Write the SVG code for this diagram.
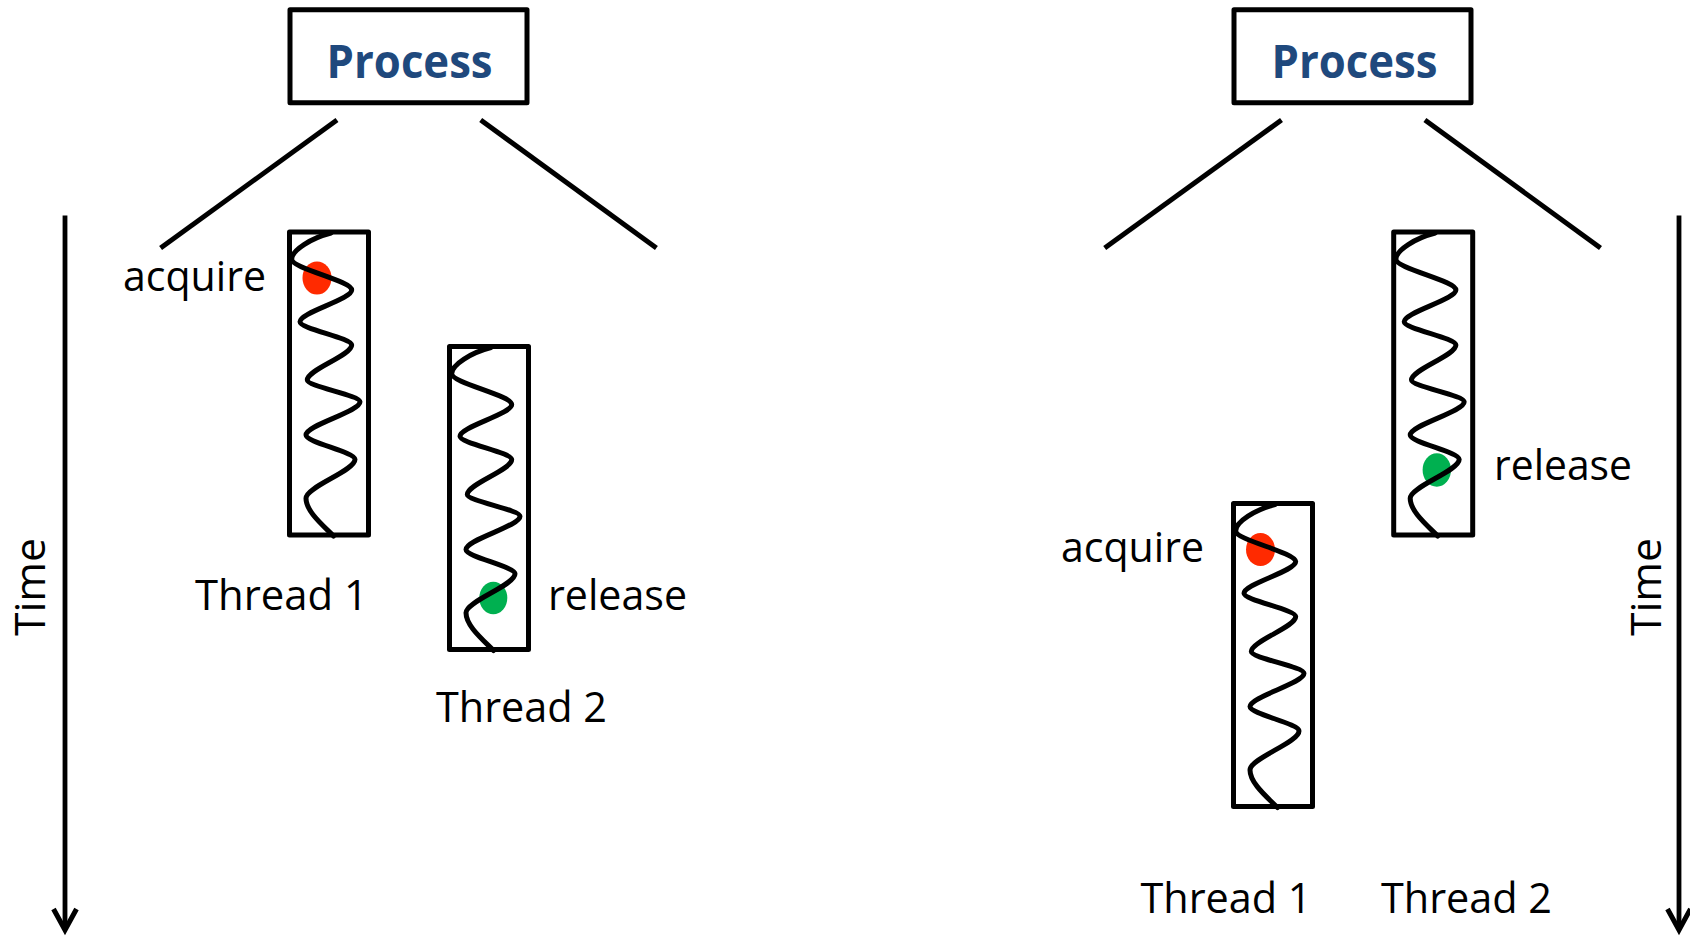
<svg xmlns="http://www.w3.org/2000/svg" xmlns:xlink="http://www.w3.org/1999/xlink" width="1690" height="936" viewBox="0 0 1690 936">
  <style>
    .box { fill: #ffffff; stroke: #000000; stroke-width: 5; stroke-linejoin: round; }
    .wave { fill: none; stroke: #000000; stroke-width: 5; stroke-linecap: round; stroke-linejoin: round; }
    .link { fill: none; stroke: #000000; stroke-width: 5; }
    .axis { fill: none; stroke: #000000; stroke-width: 4.8; }
    .title { font-family: "Open Sans", "Liberation Sans", sans-serif; font-weight: bold; font-size: 47px; fill: #1F497D; }
    .label { font-family: "Open Sans", "Liberation Sans", sans-serif; font-size: 42px; fill: #000000; }
    .acq { fill: #FF2A00; }
    .rel { fill: #00B050; }
  </style>
  <defs>
    <!-- open chevron head for the time axes -->
    <marker id="chev" viewBox="-26 -14 34 28" markerWidth="34" markerHeight="28" refX="0" refY="0" orient="auto" markerUnits="userSpaceOnUse">
      <path d="M-21,-11.5 L0,0 L-21,11.5" fill="none" stroke="#000000" stroke-width="5"/>
    </marker>
    <!-- thread box frame, 79 x 303, origin at stroke centre top-left -->
    <rect id="frame" x="0" y="0" width="79" height="303" class="box"/>
    <!-- execution trace inside a thread box -->
    <path id="wave" class="wave" d="M41.5,1 C22,6 2.2,18 2.2,27.3 C2.2,36.5 62.2,48.8 62.2,58 C62.2,67.5 10.5,80.2 10.5,89.7 C10.5,96.7 62.2,106 62.2,113 C62.2,123.5 17.8,137.5 17.8,148 C17.8,154.5 70.5,163.2 70.5,169.7 C70.5,179.7 16.5,193 16.5,203 C16.5,210.3 65.5,220 65.5,227.3 C65.5,239 16.5,254.6 16.5,266.3 C16.5,279 32,292 44,304"/>
  </defs>

  <rect x="0" y="0" width="1690" height="936" fill="#ffffff"/>

  <!-- connectors: process fan-out lines and time axes -->
  <g id="connectors">
    <line class="link" x1="337" y1="120" x2="160.6" y2="248"/>
    <line class="link" x1="480.7" y1="120" x2="656.4" y2="248"/>
    <line class="link" x1="1281.5" y1="120" x2="1104.7" y2="248"/>
    <line class="link" x1="1424.9" y1="120" x2="1600.5" y2="248"/>
    <line class="axis" x1="65" y1="215.6" x2="65" y2="930" marker-end="url(#chev)"/>
    <line class="axis" x1="1679" y1="215.6" x2="1679" y2="930" marker-end="url(#chev)"/>
  </g>

  <!-- left scenario -->
  <g id="process-left">
    <rect class="box" x="290" y="9.7" width="237" height="93"/>
    <text class="title" x="326.6" y="77.5" textLength="166" lengthAdjust="spacingAndGlyphs">Process</text>
  </g>

  <g id="thread1-left">
    <g transform="translate(289.5,232)">
      <use xlink:href="#frame" href="#frame"/>
      <ellipse class="acq" cx="27.5" cy="46" rx="14.5" ry="16.5"/>
      <use xlink:href="#wave" href="#wave"/>
    </g>
    <text class="label" x="123" y="290.5" textLength="143" lengthAdjust="spacingAndGlyphs">acquire</text>
    <text class="label" x="195" y="610" textLength="173" lengthAdjust="spacingAndGlyphs">Thread 1</text>
  </g>

  <g id="thread2-left">
    <g transform="translate(449.5,346.5)">
      <use xlink:href="#frame" href="#frame"/>
      <ellipse class="rel" cx="43.8" cy="251.5" rx="14" ry="16.3"/>
      <use xlink:href="#wave" href="#wave"/>
    </g>
    <text class="label" x="548" y="610" textLength="139" lengthAdjust="spacingAndGlyphs">release</text>
    <text class="label" x="436" y="722" textLength="171" lengthAdjust="spacingAndGlyphs">Thread 2</text>
  </g>

  <g id="time-left">
    <text class="label" transform="translate(45,587) rotate(-90)" x="0" y="0" text-anchor="middle" textLength="98" lengthAdjust="spacingAndGlyphs">Time</text>
  </g>

  <!-- right scenario -->
  <g id="process-right">
    <rect class="box" x="1234" y="9.7" width="237" height="93"/>
    <text class="title" x="1271.5" y="77.5" textLength="166" lengthAdjust="spacingAndGlyphs">Process</text>
  </g>

  <g id="thread1-right">
    <g transform="translate(1233.5,503.6)">
      <use xlink:href="#frame" href="#frame"/>
      <ellipse class="acq" cx="27" cy="46" rx="14.5" ry="16.5"/>
      <use xlink:href="#wave" href="#wave"/>
    </g>
    <text class="label" x="1061" y="561.7" textLength="143" lengthAdjust="spacingAndGlyphs">acquire</text>
    <text class="label" x="1140.5" y="913.3" textLength="171" lengthAdjust="spacingAndGlyphs">Thread 1</text>
  </g>

  <g id="thread2-right">
    <g transform="translate(1393.7,232)">
      <use xlink:href="#frame" href="#frame"/>
      <ellipse class="rel" cx="43.1" cy="238" rx="14.2" ry="16.7"/>
      <use xlink:href="#wave" href="#wave"/>
    </g>
    <text class="label" x="1494" y="480" textLength="138" lengthAdjust="spacingAndGlyphs">release</text>
    <text class="label" x="1381" y="913.3" textLength="171" lengthAdjust="spacingAndGlyphs">Thread 2</text>
  </g>

  <g id="time-right">
    <text class="label" transform="translate(1661,587) rotate(-90)" x="0" y="0" text-anchor="middle" textLength="98" lengthAdjust="spacingAndGlyphs">Time</text>
  </g>
</svg>
